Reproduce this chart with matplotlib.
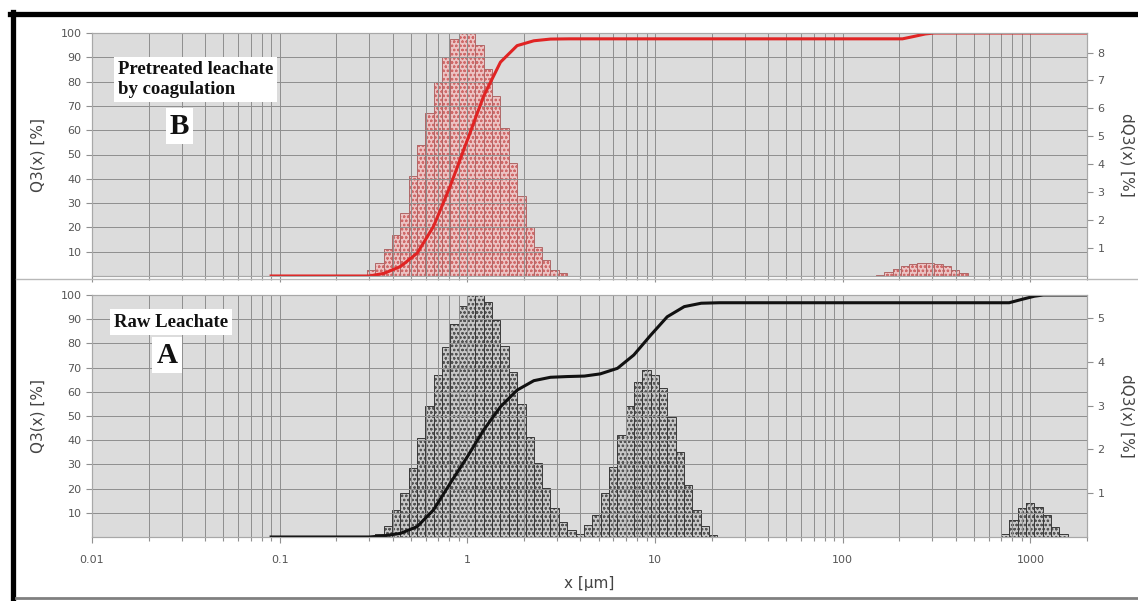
import numpy as np
import matplotlib.pyplot as plt
from matplotlib.lines import Line2D
from matplotlib.ticker import FixedLocator, NullFormatter

# size classes (bin edges, µm) and density values dQ3 [%]
top_main_edges = [0.292, 0.323, 0.358, 0.397, 0.439, 0.487, 0.539, 0.597, 0.662, 0.733,
                  0.812, 0.899, 0.996, 1.10, 1.22, 1.36, 1.50, 1.66, 1.84, 2.04,
                  2.26, 2.50, 2.77, 3.07, 3.40]
top_main_dq3 = [0.22, 0.46, 0.96, 1.48, 2.26, 3.57, 4.70, 5.83, 6.96, 7.83,
                8.48, 8.70, 8.70, 8.27, 7.40, 6.44, 5.31, 4.05, 2.87, 1.74,
                1.04, 0.57, 0.22, 0.09]
top_bump_edges = [150, 166, 184, 204, 226, 250, 277, 307, 340, 377, 417, 462]
top_bump_dq3 = [0.04, 0.13, 0.26, 0.35, 0.44, 0.48, 0.48, 0.44, 0.35, 0.22, 0.09]

bot_main_edges = [0.323, 0.358, 0.397, 0.439, 0.487, 0.539, 0.597, 0.662, 0.733, 0.812,
                  0.899, 0.996, 1.10, 1.22, 1.36, 1.50, 1.66, 1.84, 2.04, 2.26,
                  2.50, 2.77, 3.07, 3.40, 3.77, 4.18, 4.63, 5.13, 5.68, 6.29,
                  6.97, 7.72, 8.55, 9.47, 10.5, 11.6, 12.9, 14.3, 15.8, 17.5,
                  19.4, 21.5]
bot_main_dq3 = [0.06, 0.25, 0.61, 1.00, 1.58, 2.27, 2.99, 3.71, 4.34, 4.87,
                5.28, 5.53, 5.53, 5.36, 4.95, 4.37, 3.76, 3.04, 2.29, 1.69,
                1.11, 0.66, 0.35, 0.16, 0.07, 0.28, 0.50, 1.00, 1.60, 2.32,
                2.99, 3.54, 3.82, 3.71, 3.40, 2.75, 1.94, 1.19, 0.61, 0.24,
                0.04]
bot_bump_edges = [696, 771, 854, 946, 1048, 1161, 1286, 1425, 1579]
bot_bump_dq3 = [0.06, 0.39, 0.66, 0.77, 0.69, 0.50, 0.22, 0.06]

# cumulative distribution Q3 [%]
top_q3_x = [0.09, 0.30, 0.36, 0.44, 0.54, 0.66, 0.81, 1.0, 1.22, 1.5, 1.84, 2.26,
            2.77, 3.5, 208, 240, 275, 307, 2000]
top_q3_y = [0, 0, 1.1, 3.9, 9.4, 20.4, 37, 56, 74, 88, 94.8, 96.8,
            97.5, 97.6, 97.6, 98.6, 99.6, 100, 100]
bot_q3_x = [0.09, 0.30, 0.36, 0.44, 0.54, 0.66, 0.81, 1.0, 1.22, 1.5, 1.84, 2.26,
            2.77, 3.4, 4.2, 5.1, 6.3, 7.7, 9.5, 11.6, 14.3, 17.6, 22,
            770, 900, 1050, 1170, 2000]
bot_q3_y = [0, 0, 0.5, 1.5, 4.3, 11.2, 22.2, 33.2, 44.2, 53.8, 60.7, 64.6,
            66, 66.3, 66.5, 67.4, 69.7, 75.2, 83.5, 91, 95.2, 96.6, 96.8,
            96.8, 98.2, 99.5, 100, 100]

x_ticks = [0.01, 0.1, 1, 10, 100, 1000]
x_ticklabels = ["0.01", "0.1", "1", "10", "100", "1000"]

plt.rcParams['hatch.linewidth'] = 0.6
fig = plt.figure(figsize=(11.38, 6.01), dpi=100)

bg = '#dcdcdc'
tick_col = '#555555'
grid_col = '#8e8e8e'


def draw_bars(ax2, edges, vals, face, hatch_col, edge_col):
    edges = np.array(edges)
    ax2.bar(edges[:-1], vals, width=np.diff(edges), align='edge', color=face,
            edgecolor=hatch_col, linewidth=0, hatch='oooo')
    ax2.bar(edges[:-1], vals, width=np.diff(edges), align='edge', fill=False,
            edgecolor=edge_col, linewidth=0.7)


def setup(ax, ax2, dq_max, dq_ticks, show_x):
    ax.set_xscale('log')
    ax.set_xlim(0.01, 2000)
    ax.set_ylim(0, 100)
    ax2.set_ylim(0, dq_max)
    ax.set_zorder(ax2.get_zorder() + 1)
    ax.patch.set_visible(False)
    ax2.patch.set_facecolor(bg)
    ax2.patch.set_visible(True)
    ax.set_yticks(range(10, 101, 10))
    ax2.set_yticks(dq_ticks)
    ax.xaxis.set_major_locator(FixedLocator(x_ticks))
    minor = [m * d for d in [0.01, 0.1, 1, 10, 100, 1000] for m in range(2, 10) if m * d <= 2000]
    ax.xaxis.set_minor_locator(FixedLocator(minor))
    ax.xaxis.set_minor_formatter(NullFormatter())
    if show_x:
        ax.set_xticklabels(x_ticklabels)
    else:
        ax.set_xticklabels([])
    ax.grid(True, which='both', axis='x', color=grid_col, linewidth=0.7)
    ax.grid(True, which='major', axis='y', color=grid_col, linewidth=0.7)
    for a in (ax, ax2):
        a.tick_params(axis='both', which='both', colors='#909090', labelcolor=tick_col,
                      labelsize=8, length=4, width=0.8)
        for s in a.spines.values():
            s.set_color('#a8a8a8')
            s.set_linewidth(0.8)
    ax.tick_params(axis='x', which='both', pad=9)
    ax.tick_params(axis='x', which='minor', length=3)
    ax.set_ylabel("Q3(x) [%]", fontsize=11, color='#444444')
    ax.yaxis.set_label_coords(-0.047, 0.5)
    ax2.set_ylabel("dQ3(x) [%]", fontsize=11, color='#444444', rotation=270, va='center')
    ax2.yaxis.set_label_coords(1.040, 0.5)


# top panel: pretreated leachate
ax_t = fig.add_axes([92 / 1138, 1 - 276 / 601, 995 / 1138, 243 / 601])
ax_t2 = ax_t.twinx()
setup(ax_t, ax_t2, 8.7, range(1, 9), False)
draw_bars(ax_t2, top_main_edges, top_main_dq3, '#ecc4c4', '#d06a6a', '#b06868')
draw_bars(ax_t2, top_bump_edges, top_bump_dq3, '#ecc4c4', '#d06a6a', '#b06868')
ax_t.plot(top_q3_x, top_q3_y, color='#e02424', linewidth=2.2)

# bottom panel: raw leachate
ax_b = fig.add_axes([92 / 1138, 1 - 537 / 601, 995 / 1138, 242 / 601])
ax_b2 = ax_b.twinx()
setup(ax_b, ax_b2, 5.53, range(1, 6), True)
draw_bars(ax_b2, bot_main_edges, bot_main_dq3, '#c8c8c8', '#555555', '#3a3a3a')
draw_bars(ax_b2, bot_bump_edges, bot_bump_dq3, '#c8c8c8', '#555555', '#3a3a3a')
ax_b.plot(bot_q3_x, bot_q3_y, color='#111111', linewidth=2.2)
ax_b.set_xlabel("x [µm]", fontsize=11, color='#444444', labelpad=8)

# sample annotations
serif = dict(family='Liberation Serif', weight='bold', color='#111111')
box = dict(facecolor='white', edgecolor='none', pad=3)
ax_t.text(0.026, 0.885, "Pretreated leachate\nby coagulation", transform=ax_t.transAxes,
          ha='left', va='top', fontsize=13.5, linespacing=1.25, bbox=box, **serif)
ax_t.text(0.088, 0.617, "B", transform=ax_t.transAxes, ha='center', va='center',
          fontsize=21, bbox=box, **serif)
ax_b.text(0.022, 0.888, "Raw Leachate", transform=ax_b.transAxes, ha='left', va='center',
          fontsize=13.5, bbox=box, **serif)
ax_b.text(0.0754, 0.752, "A", transform=ax_b.transAxes, ha='center', va='center',
          fontsize=21, bbox=box, **serif)

# outer frame of the composite figure
fig.add_artist(Line2D([10 / 1138, 1], [1 - 14 / 601, 1 - 14 / 601], color='black', linewidth=3.8))
fig.add_artist(Line2D([13 / 1138, 13 / 1138], [0, 1 - 12 / 601], color='black', linewidth=3.8))
fig.add_artist(Line2D([16 / 1138, 1], [1 - 279 / 601, 1 - 279 / 601], color='#b8b8b8', linewidth=1))
fig.add_artist(Line2D([16 / 1138, 1], [1 - 598 / 601, 1 - 598 / 601], color='#808080', linewidth=2))

fig.savefig("out.png", dpi=100)
